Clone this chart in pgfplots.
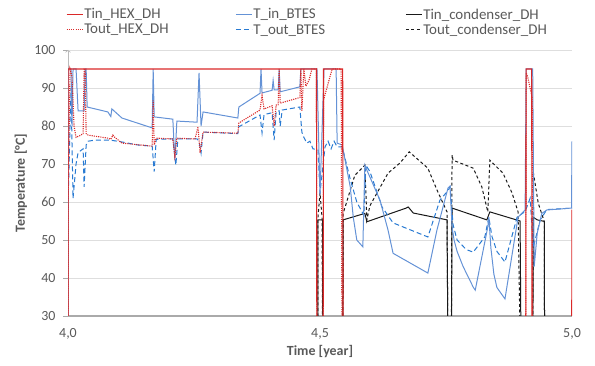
\documentclass[border=0pt]{standalone}
\usepackage{pgfplots}
\pgfplotsset{compat=1.18}
\usepackage{fontspec}
\setmainfont{Carlito}
\usetikzlibrary{arrows.meta}
\definecolor{redc}{RGB}{218,40,40}
\definecolor{bluein}{RGB}{100,146,214}
\definecolor{blueout}{RGB}{40,122,210}
\definecolor{blackc}{RGB}{25,25,25}
\definecolor{gridc}{RGB}{222,222,222}
\definecolor{axisc}{RGB}{170,170,170}
\definecolor{textc}{RGB}{89,89,89}
\tikzset{
  sredsolid/.style={draw=redc, line width=1.1bp},
  sreddot/.style={draw=redc, line width=1.1bp, dash pattern=on 1.1bp off 1.1bp},
  sbluein/.style={draw=bluein, line width=1bp},
  sblueout/.style={draw=blueout, line width=1bp, dash pattern=on 5bp off 3bp},
  sblack/.style={draw=blackc, line width=1bp},
  sblackdash/.style={draw=blackc, line width=1bp, dash pattern=on 3bp off 2.5bp},
}
\pgfplotsset{legend image code/.code={\draw[#1] (0bp,0bp) -- (16bp,0bp);}}
\begin{document}
\begin{tikzpicture}
\useasboundingbox (-68bp,-50bp) rectangle (527bp,316bp);
\begin{axis}[
  scale only axis, width=504bp, height=266bp,
  xmin=4, xmax=5, ymin=30, ymax=100,
  axis x line*=bottom, axis y line*=left,
  xtick={4,4.5,5}, ytick={30,40,...,100},
  xticklabel style={/pgf/number format/use comma, /pgf/number format/fixed, /pgf/number format/fixed zerofill, /pgf/number format/precision=1},
  /pgf/number format/assume math mode=true,
  tick align=outside, major tick length=5bp,
  xtick style={draw=none},
  ytick style={draw=axisc, line width=0.6bp},
  ymajorgrids, grid style={draw=gridc, line width=0.6bp},
  x axis line style={draw=axisc, line width=1.4bp, -},
  y axis line style={draw=axisc!80, line width=0.6bp, -{Straight Barb[length=2bp,width=5bp]}},
  tick label style={font=\fontsize{14}{16}\selectfont, text=textc},
  yticklabel style={xshift=-4bp},
  xticklabel style={yshift=-4bp},
  xlabel={Time [year]}, ylabel={Temperature [°C]},
  every axis x label/.style={at={(axis description cs:0.5,0)}, yshift=-36bp, anchor=center},
  every axis y label/.style={at={(axis description cs:0,0.5)}, xshift=-47bp, rotate=90, anchor=center},
  label style={font=\fontsize{14}{16}\selectfont\bfseries, text=textc},
  legend columns=3,
  legend cell align=left,
  legend style={draw=none, fill=none, at={(axis description cs:-0.004,1.16)}, anchor=north west,
    font=\fontsize{15}{16}\selectfont, text=textc, inner sep=0pt, row sep=1.5bp,
    nodes={inner sep=1bp}},
]
\addlegendimage{sredsolid}
\addlegendentry{\makebox[150bp][l]{Tin\_HEX\_DH}}
\addlegendimage{sbluein}
\addlegendentry{\makebox[151bp][l]{T\_in\_BTES}}
\addlegendimage{sblack}
\addlegendentry{Tin\_condenser\_DH}
\addlegendimage{sreddot}
\addlegendentry{\makebox[150bp][l]{Tout\_HEX\_DH}}
\addlegendimage{sblueout}
\addlegendentry{\makebox[151bp][l]{T\_out\_BTES}}
\addlegendimage{sblackdash}
\addlegendentry{Tout\_condenser\_DH}

% Tout_condenser_DH
\addplot[sblackdash, forget plot] coordinates {
(4.000,0)(4.495,0)(4.496,56)(4.500,62.4)(4.504,56)(4.506,0)(4.545,0)(4.546,57)(4.569,67)(4.589,69.7)(4.593,55.3)(4.599,59)(4.635,67.6)(4.659,70.3)(4.677,73.2)(4.714,68.9)(4.732,63.2)(4.752,57.4)(4.755,0)(4.760,0)(4.762,72.4)(4.764,71)(4.804,68.9)(4.821,64)(4.833,57.4)(4.837,71)(4.863,67.6)(4.881,62.4)(4.893,57.4)(4.900,0)(4.922,0)(4.923,68)(4.933,59.7)(4.945,54.8)(4.946,0)(5.000,0)
};
% Tin_condenser_DH
\addplot[sblack, forget plot] coordinates {
(4.000,0)(4.495,0)(4.496,55.3)(4.505,55.3)(4.506,0)(4.545,0)(4.546,55.3)(4.589,57)(4.593,54.8)(4.671,58.4)(4.675,58.7)(4.685,57.1)(4.752,55.3)(4.755,0)(4.760,0)(4.762,58.4)(4.831,55.3)(4.837,57.4)(4.897,55)(4.900,0)(4.922,0)(4.923,56)(4.931,55.3)(4.945,54.9)(4.946,0)(5.000,0)
};
% T_out_BTES
\addplot[sblueout, forget plot] coordinates {
(4.000,58)(4.004,80)(4.006,90)(4.008,75)(4.010,61)(4.016,70)(4.020,73)(4.030,74)(4.032,64)(4.036,75)(4.040,76)(4.054,76.3)(4.083,76.3)(4.107,75.8)(4.139,75)(4.167,74.7)(4.171,68)(4.175,76.5)(4.208,76.6)(4.214,69.7)(4.218,76.6)(4.256,76.6)(4.260,76)(4.264,72.9)(4.268,78.4)(4.337,78)(4.339,79.8)(4.381,82.9)(4.385,78.2)(4.389,83)(4.405,83.5)(4.409,76.3)(4.413,83.8)(4.419,84)(4.421,80)(4.425,84.2)(4.460,85)(4.464,78.4)(4.468,77)(4.474,75.5)(4.480,76)(4.486,74)(4.496,73.7)(4.500,62.4)(4.510,74.5)(4.516,76)(4.522,74)(4.528,76)(4.534,74.5)(4.544,74.5)(4.560,66)(4.573,60)(4.587,56.5)(4.591,69.7)(4.599,68)(4.612,63)(4.623,58.7)(4.645,54.5)(4.714,50.8)(4.738,60.5)(4.754,63)(4.758,64)(4.764,54)(4.772,50)(4.790,47.5)(4.804,46.8)(4.827,50.8)(4.835,56)(4.841,51)(4.851,47)(4.867,44.2)(4.891,56)(4.907,57.5)(4.917,61)(4.923,48)(4.937,55.3)(4.950,58)(5.000,58.4)
};
% T_in_BTES
\addplot[sbluein, forget plot] coordinates {
(4.000,30)(4.000,95)(4.006,95)(4.008,80)(4.010,95)(4.016,95)(4.020,84)(4.032,84)(4.034,95)(4.036,95)(4.038,85)(4.079,83.7)(4.085,82.5)(4.087,84.5)(4.107,82.1)(4.167,79.5)(4.169,95)(4.171,82.4)(4.208,81.8)(4.212,71)(4.216,81.3)(4.256,81)(4.260,94)(4.264,80)(4.268,83.7)(4.337,82.1)(4.339,85)(4.381,88.6)(4.383,95)(4.385,88.7)(4.405,89.4)(4.407,92)(4.409,89.5)(4.417,89.5)(4.419,95)(4.421,89)(4.460,90.3)(4.462,95)(4.494,95)(4.500,62)(4.508,95)(4.532,95)(4.534,75.5)(4.544,75)(4.560,64)(4.566,56)(4.573,50)(4.585,48.2)(4.589,69.7)(4.593,68.4)(4.619,60.5)(4.635,52.6)(4.645,46.5)(4.714,41.3)(4.732,52.6)(4.754,63.7)(4.758,64.2)(4.762,53.4)(4.766,50)(4.772,47)(4.784,43)(4.804,37.6)(4.808,36.8)(4.833,53.5)(4.835,56)(4.839,48)(4.845,41)(4.851,37.5)(4.867,34.5)(4.893,56)(4.907,57.9)(4.909,95)(4.922,95)(4.925,43)(4.931,51.8)(4.940,57)(4.950,57.9)(4.999,58.4)(5.000,76)
};
% Tout_HEX_DH
\addplot[sreddot, forget plot] coordinates {
(4.000,0)(4.000,58)(4.004,95)(4.008,93)(4.012,80)(4.016,77)(4.024,77.5)(4.030,78)(4.032,95)(4.034,95)(4.036,78)(4.040,77.6)(4.079,76.8)(4.085,76.5)(4.089,77.6)(4.093,77)(4.107,75.5)(4.167,74.7)(4.169,86.8)(4.171,75)(4.175,76.8)(4.208,76.6)(4.212,72)(4.216,76.8)(4.252,76.6)(4.258,79.8)(4.262,73)(4.268,78.4)(4.337,78.1)(4.339,80.8)(4.381,84.2)(4.385,88)(4.389,84.5)(4.405,85.3)(4.409,80)(4.413,85.5)(4.417,85.6)(4.419,95)(4.421,86)(4.460,87.5)(4.462,95)(4.464,84)(4.468,95)(4.472,90.5)(4.478,92)(4.484,95)(4.493,95)(4.494,0)(4.506,0)(4.507,86.8)(4.524,95)(4.542,95)(4.544,0)(4.908,0)(4.909,94)(4.912,93)(4.921,87.4)(4.922,0)(5.000,0)
};
% Tin_HEX_DH
\addplot[sredsolid, forget plot] coordinates {
(4.000,0)(4.000,95)(4.493,95)(4.494,0)(4.506,0)(4.507,95)(4.545,95)(4.546,0)(4.908,0)(4.909,95)(4.920,95)(4.921,0)(4.999,0)(5.000,58)
};
\end{axis}
\end{tikzpicture}
\end{document}
